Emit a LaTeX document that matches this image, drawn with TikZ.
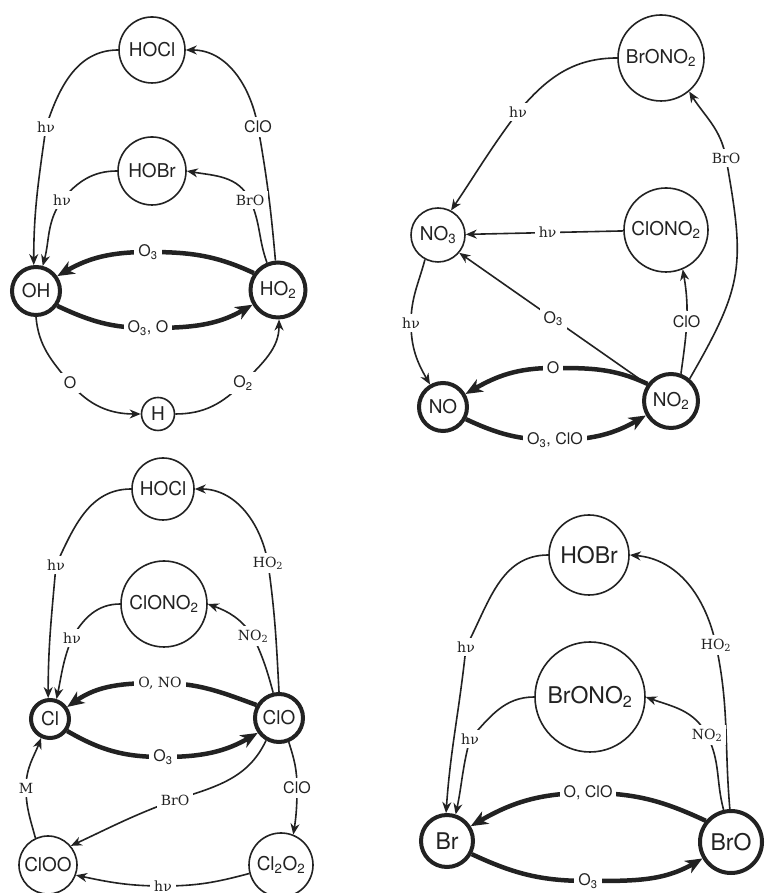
\documentclass[tikz,border=0pt]{standalone}
\usepackage{fontspec}
\setsansfont{TeX Gyre Heros}
\newfontfamily\labserif{DejaVu Serif}
\usetikzlibrary{arrows.meta}
\definecolor{ink}{RGB}{34,34,34}
\tikzset{
  mol/.style={circle, draw=ink, line width=1.6pt, inner sep=0pt, text=ink,
    font=\sffamily\fontsize{19}{19}\selectfont},
  bigmol/.style={mol, line width=4pt},
  bigfont/.style={font=\sffamily\fontsize{23}{23}\selectfont},
  thinarr/.style={draw=ink, line width=1.6pt, -{Stealth[length=11pt,width=9pt,inset=3.5pt]}},
  thickarr/.style={draw=ink, line width=4.5pt, -{Stealth[length=17pt,width=14pt,inset=5pt]}},
  lab/.style={fill=white, inner sep=4pt, text=ink, font=\sffamily\fontsize{16}{16}\selectfont},
  slab/.style={lab, font=\labserif\fontsize{14}{14}\selectfont},
}
\begin{document}
\begin{tikzpicture}[x=1pt,y=1pt]
\useasboundingbox (0,0) rectangle (765,893);
\clip (0,0) rectangle (765,893);
\fill[white] (0,0) rectangle (765,893);

% ---------------- HOx cycle (top left) ----------------
\node[mol, minimum size=66pt] (hocl1) at (152,843) {HOCl};
\node[mol, minimum size=68pt] (hobr1) at (152,722) {HOBr};
\node[bigmol, minimum size=48pt] (oh) at (36,602) {OH};
\node[bigmol, minimum size=55pt] (ho2) at (278,603) {HO\textsubscript{2}};
\node[mol, minimum size=33pt] (h) at (158,479) {H};

\coordinate (q1a) at (46,766);
\coordinate (q1b) at (258,766);
\coordinate (q1c) at (62,693);
\coordinate (q1d) at (250,693);
\coordinate (q1e) at (148,641);
\coordinate (q1f) at (148,565);
\coordinate (q1g) at (70,510);
\coordinate (q1h) at (243,510);

\draw[thinarr] (hocl1.west) to[out=180,in=72] (q1a) to[out=-98,in=90] (oh.95);
\draw[thinarr] (ho2.95) to[out=95,in=-80] (q1b) to[out=100,in=0] (hocl1.east);
\draw[thinarr] (hobr1.west) to[out=180,in=50] (q1c) to[out=-125,in=75] (oh.75);
\draw[thinarr] (ho2.112) to[out=110,in=-65] (q1d) to[out=115,in=-10] (hobr1.east);
\draw[thickarr] (ho2.145) to[out=155,in=0] (q1e) to[out=180,in=30] (oh.35);
\draw[thickarr] (oh.-35) to[out=-25,in=180] (q1f) to[out=0,in=-150] (ho2.210);
\draw[thinarr] (oh.south) to[out=-85,in=130] (q1g) to[out=-50,in=180] (h.west);
\draw[thinarr] (h.east) to[out=0,in=-135] (q1h) to[out=45,in=-90] (ho2.-88);

\node[slab] (l1a) at (q1a) {hν};
\node[lab]  (l1b) at (q1b) {ClO};
\node[slab] (l1c) at (q1c) {hν};
\node[slab] (l1d) at (q1d) {BrO};
\node[lab]  (l1e) at (q1e) {O\textsubscript{3}};
\node[lab]  (l1f) at (q1f) {O\textsubscript{3}, O};
\node[lab]  (l1g) at (q1g) {O};
\node[lab]  (l1h) at (q1h) {O\textsubscript{2}};

% ---------------- NOx cycle (top right) ----------------
\node[mol, minimum size=86pt] (brono2b) at (661,835) {BrONO\textsubscript{2}};
\node[mol, minimum size=84pt] (clono2b) at (666,663) {ClONO\textsubscript{2}};
\node[mol, minimum size=54pt] (no3) at (438,658) {NO\textsubscript{3}};
\node[bigmol, minimum size=48pt] (no) at (443,486) {NO};
\node[bigmol, minimum size=54pt] (no2) at (671,492) {NO\textsubscript{2}};

\coordinate (q2a) at (518,781);
\coordinate (q2b) at (726,735);
\coordinate (q2f) at (411,570);
\coordinate (q2g) at (553,525);
\coordinate (q2h) at (555,453);

\draw[thinarr] (brono2b.west) to[out=180,in=50] (q2a) to[out=-127,in=56] (no3.62);
\draw[thinarr] (no2.50) to[out=60,in=-80,looseness=1.25] (q2b) to[out=100,in=-58] (brono2b.-50);
\draw[thinarr] (clono2b) -- node[slab,pos=0.48] (l2c) {hν} (no3);
\draw[thinarr] (no2.145) -- node[lab,pos=0.5] (l2d) {O\textsubscript{3}} (no3.-40);
\draw[thinarr] (no2.70) to[out=82,in=-80] node[lab] (l2e) {ClO} (clono2b.-67);
\draw[thinarr] (no3.-118) to[out=-105,in=90] (q2f) to[out=-90,in=120] (no.120);
\draw[thickarr] (no2.144) to[out=155,in=0] (q2g) to[out=180,in=30] (no.30);
\draw[thickarr] (no.-28) to[out=-25,in=180] (q2h) to[out=0,in=-150] (no2.210);

\node[slab] (l2a) at (q2a) {hν};
\node[slab] (l2b) at (q2b) {BrO};
\node[slab] (l2f) at (q2f) {hν};
\node[lab]  (l2g) at (q2g) {O};
\node[lab]  (l2h) at (q2h) {O\textsubscript{3}, ClO};

% ---------------- ClOx cycle (bottom left) ----------------
\node[mol, minimum size=62pt] (hocl3) at (163,404) {HOCl};
\node[mol, minimum size=86pt] (clono2c) at (164,289) {ClONO\textsubscript{2}};
\node[bigmol, minimum size=38pt] (cl) at (50,174) {Cl};
\node[bigmol, minimum size=48pt] (clo) at (279,175) {ClO};
\node[mol, minimum size=58pt] (cloo) at (48,28) {ClOO};
\node[mol, minimum size=64pt] (cl2o2) at (281,28) {Cl\textsubscript{2}O\textsubscript{2}};

\coordinate (q3a) at (56,328);
\coordinate (q3b) at (268,330);
\coordinate (q3c) at (72,255);
\coordinate (q3d) at (253,257);
\coordinate (q3e) at (160,210);
\coordinate (q3f) at (163,136);
\coordinate (q3g) at (175,93);
\coordinate (q3h) at (297,105);
\coordinate (q3i) at (163,7);
\coordinate (q3j) at (26,105);

\draw[thinarr] (hocl3.west) to[out=180,in=65] (q3a) to[out=-95,in=90] (cl.95);
\draw[thinarr] (clo.90) to[out=93,in=-82] (q3b) to[out=100,in=0] (hocl3.east);
\draw[thinarr] (clono2c.west) to[out=180,in=60] (q3c) to[out=-112,in=78] (cl.72);
\draw[thinarr] (clo.103) to[out=105,in=-65] (q3d) to[out=125,in=-20] (clono2c.east);
\draw[thickarr] (clo.150) to[out=160,in=0] (q3e) to[out=180,in=35] (cl.35);
\draw[thickarr] (cl.-35) to[out=-30,in=180] (q3f) to[out=0,in=-150] (clo.215);
\draw[thinarr] (clo.240) to[out=-115,in=18] (q3g) to[out=-160,in=25] (cloo.40);
\draw[thinarr] (clo.-68) to[out=-72,in=90] (q3h) to[out=-90,in=81] (cl2o2.68);
\draw[thinarr] (cl2o2.195) to[out=195,in=0] (q3i) to[out=180,in=-12] (cloo.-20);
\draw[thinarr] (cloo.115) to[out=105,in=-90] (q3j) to[out=90,in=-111] (cl.245);

\node[slab] (l3a) at (q3a) {hν};
\node[slab] (l3b) at (q3b) {HO\textsubscript{2}};
\node[slab] (l3c) at (q3c) {hν};
\node[slab] (l3d) at (q3d) {NO\textsubscript{2}};
\node[slab] (l3e) at (q3e) {O, NO};
\node[lab]  (l3f) at (q3f) {O\textsubscript{3}};
\node[slab] (l3g) at (q3g) {BrO};
\node[lab]  (l3h) at (q3h) {ClO};
\node[slab, inner ysep=2pt] (l3i) at (q3i) {hν};
\node[slab] (l3j) at (q3j) {M};

% ---------------- BrOx cycle (bottom right) ----------------
\node[mol, bigfont, minimum size=80pt] (hobr4) at (589,338) {HOBr};
\node[mol, bigfont, minimum size=110pt] (brono2d) at (590,196) {BrONO\textsubscript{2}};
\node[bigmol, bigfont, minimum size=52pt] (br) at (447,52) {Br};
\node[bigmol, bigfont, minimum size=62pt] (bro) at (731,51) {BrO};

\coordinate (q4a) at (466,246);
\coordinate (q4b) at (716,248);
\coordinate (q4c) at (470,154);
\coordinate (q4d) at (707,158);
\coordinate (q4e) at (588,100);
\coordinate (q4f) at (588,12);

\draw[thinarr] (hobr4.west) to[out=180,in=62] (q4a) to[out=-96,in=86] (br.92);
\draw[thinarr] (bro.92) to[out=95,in=-78] (q4b) to[out=102,in=-5] (hobr4.east);
\draw[thinarr] (brono2d.west) to[out=180,in=48] (q4c) to[out=-105,in=78] (br.72);
\draw[thinarr] (bro.103) to[out=105,in=-63] (q4d) to[out=117,in=-20] (brono2d.east);
\draw[thickarr] (bro.140) to[out=155,in=0] (q4e) to[out=180,in=30] (br.32);
\draw[thickarr] (br.-28) to[out=-25,in=180] (q4f) to[out=0,in=-150] (bro.210);

\node[slab] (l4a) at (q4a) {hν};
\node[slab] (l4b) at (q4b) {HO\textsubscript{2}};
\node[slab] (l4c) at (q4c) {hν};
\node[slab] (l4d) at (q4d) {NO\textsubscript{2}};
\node[lab]  (l4e) at (q4e) {O, ClO};
\node[lab]  (l4f) at (q4f) {O\textsubscript{3}};
\end{tikzpicture}
\end{document}
